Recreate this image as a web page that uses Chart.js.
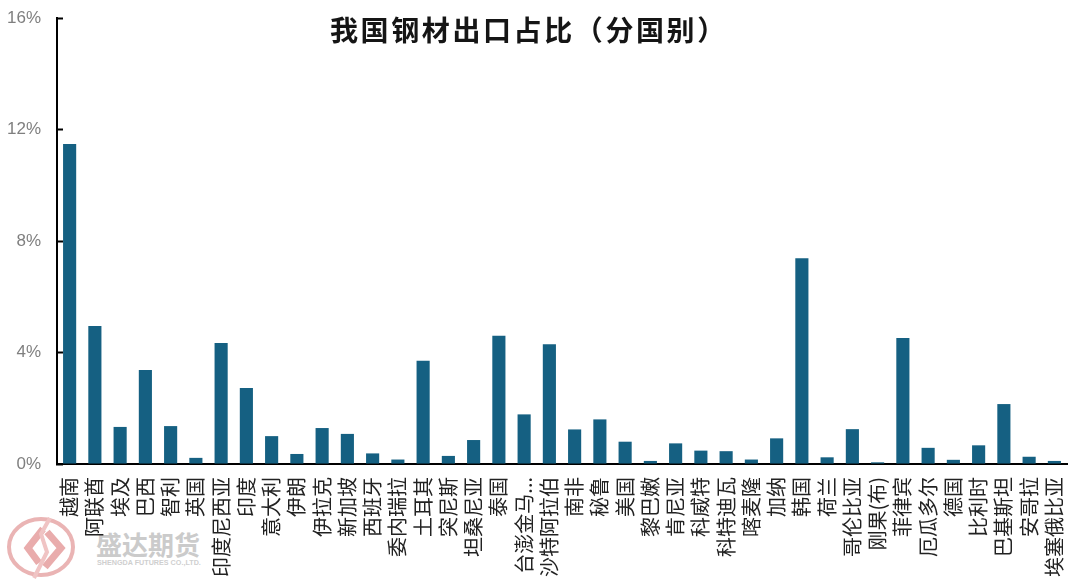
<!DOCTYPE html>
<html>
<head>
<meta charset="utf-8">
<script src="https://cdn.jsdelivr.net/npm/chart.js@4/dist/chart.umd.min.js"></script>
<style>
html, body { margin: 0; padding: 0; background: #fff; }
#wrap { position: relative; width: 1080px; height: 586px; overflow: hidden; }
#chart { position: absolute; left: 0; top: 0; z-index: 2; }
#title { position: absolute; left: 330px; top: 9px; width: 400px; z-index: 3; white-space: nowrap;
    font: 700 28px "Noto Sans CJK SC"; letter-spacing: 2.6px; color: #151515; line-height: 40px; }
#logo { position: absolute; left: 0; top: 510px; z-index: 1; }
#brand { position: absolute; left: 96px; top: 529px; z-index: 1; white-space: nowrap;
    font: 700 26px/30px "Noto Sans CJK SC"; color: #cbcbcb; }
#brandEn { position: absolute; left: 97px; top: 558px; z-index: 1; white-space: nowrap;
    font: 700 7.2px/10px "Liberation Sans"; color: #cfcfcf; }
</style>
</head>
<body>
<div id="wrap">
    <svg id="logo" width="90" height="76" viewBox="0 0 90 76">
        <ellipse cx="41" cy="37" rx="32" ry="28" fill="none" stroke="#eab4b4" stroke-width="4"/>
        <path d="M43 19 L28 38 L39 53" fill="none" stroke="#e9acac" stroke-width="7"/>
        <path d="M47 22 L61 38 L45 57" fill="none" stroke="#e9acac" stroke-width="7"/>
        <path d="M50 8 L41 24 L47 42 L34 68" fill="none" stroke="#f0c4c4" stroke-width="4"/>
    </svg>
    <div id="brand">盛达期货</div>
    <div id="brandEn">SHENGDA FUTURES CO.,LTD.</div>
    <canvas id="chart" width="1080" height="586"></canvas>
    <div id="title">我国钢材出口占比（分国别）</div>
</div>
<script>
const countries = ["越南", "阿联酋", "埃及", "巴西", "智利", "英国", "印度尼西亚", "印度", "意大利", "伊朗",
    "伊拉克", "新加坡", "西班牙", "委内瑞拉", "土耳其", "突尼斯", "坦桑尼亚", "泰国", "台澎金马...", "沙特阿拉伯",
    "南非", "秘鲁", "美国", "黎巴嫩", "肯尼亚", "科威特", "科特迪瓦", "喀麦隆", "加纳", "韩国",
    "荷兰", "哥伦比亚", "刚果(布)", "菲律宾", "厄瓜多尔", "德国", "比利时", "巴基斯坦", "安哥拉", "埃塞俄比亚"];

const shares = [11.48, 4.95, 1.33, 3.37, 1.36, 0.22, 4.34, 2.73, 1.0, 0.36,
    1.29, 1.08, 0.38, 0.16, 3.7, 0.29, 0.86, 4.6, 1.78, 4.3,
    1.24, 1.6, 0.8, 0.11, 0.74, 0.48, 0.46, 0.16, 0.92, 7.38,
    0.24, 1.25, 0.06, 4.52, 0.58, 0.15, 0.67, 2.15, 0.26, 0.11];

new Chart(document.getElementById("chart"), {
    type: "bar",
    data: {
        labels: countries,
        datasets: [{
            data: shares,
            backgroundColor: "#156082",
            barPercentage: 1,
            categoryPercentage: 0.52
        }]
    },
    options: {
        responsive: false,
        animation: false,
        layout: { padding: { top: 18, right: 13, left: 0, bottom: 0 } },
        plugins: { legend: { display: false }, tooltip: { enabled: false } },
        scales: {
            x: {
                // fixed band so the plot area lands where the reference has it
                afterFit: s => { s.height = 122; s.paddingLeft = 0; s.paddingRight = 0; },
                grid: { display: false, drawTicks: false },
                border: { color: "#000", width: 2 },
                ticks: {
                    autoSkip: false,
                    minRotation: 90,
                    maxRotation: 90,
                    padding: 13,
                    color: "#222",
                    font: { family: "Noto Sans CJK SC", size: 20 }
                }
            },
            y: {
                min: 0,
                max: 16,
                afterFit: s => { s.width = 57; s.paddingTop = 0; s.paddingBottom = 0; },
                grid: { drawOnChartArea: false, tickLength: -6, tickWidth: 2, tickColor: "#000" },
                border: { color: "#000", width: 2 },
                ticks: {
                    stepSize: 4,
                    padding: 22,
                    color: "#7f7f7f",
                    font: { family: "Liberation Sans", size: 17 },
                    callback: v => v + "%"
                }
            }
        }
    }
});
</script>
</body>
</html>
